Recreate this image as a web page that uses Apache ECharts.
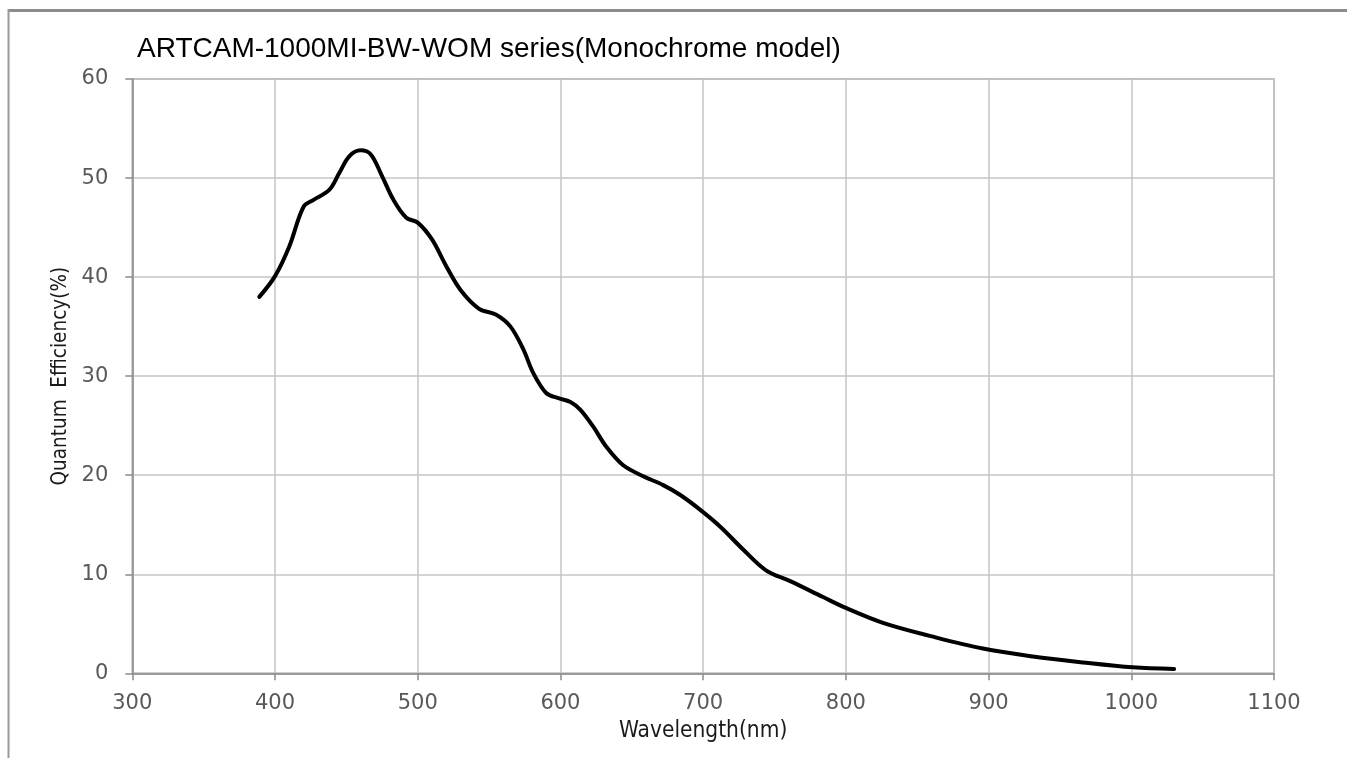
<!DOCTYPE html>
<html>
<head>
<meta charset="utf-8">
<script src="https://cdn.jsdelivr.net/npm/echarts@6/dist/echarts.min.js"></script>
<style>
html,body{margin:0;padding:0;background:#fff;}
#chart{width:1347px;height:758px;}
</style>
</head>
<body>
<div id="chart"></div>
<script>
// Data
const wavelengths = [389, 400, 410, 420, 427, 438, 445, 452, 460, 467, 475, 483, 492, 500, 510, 520, 530, 543, 555, 565, 574, 581, 590, 598, 607, 614, 623, 632, 644, 658, 672, 684, 698, 712, 728, 744, 761, 784, 800, 826, 861, 896, 931, 966, 1001, 1030];
const efficiency = [38.0, 40.1, 43.1, 47.1, 47.8, 48.8, 50.5, 52.2, 52.8, 52.4, 50.2, 47.8, 46.0, 45.5, 43.8, 41.1, 38.7, 36.8, 36.2, 35.0, 32.7, 30.3, 28.3, 27.8, 27.4, 26.6, 24.9, 22.9, 21.0, 19.9, 19.0, 18.0, 16.5, 14.8, 12.5, 10.4, 9.3, 7.7, 6.6, 5.1, 3.7, 2.5, 1.7, 1.1, 0.6, 0.43];
const titleText = 'ARTCAM-1000MI-BW-WOM series(Monochrome model)';
const xAxisName = 'Wavelength(nm)';
const yAxisName = 'Quantum  Efficiency(%)';

const seriesData = wavelengths.map((w, i) => [w, efficiency[i]]);
const narrow = '"Liberation Sans Narrow", "DejaVu Sans Condensed", "Liberation Sans", sans-serif';

const chart = echarts.init(document.getElementById('chart'), null, {renderer: 'canvas'});
chart.setOption({
  backgroundColor: '#fff',
  animation: false,
  title: {
    text: titleText,
    left: 137,
    top: 35,
    padding: 0,
    textStyle: {fontFamily: '"Liberation Sans", Arial, sans-serif', fontSize: 28, fontWeight: 'normal', color: '#000'}
  },
  graphic: [
    {type: 'line', shape: {x1: 8, y1: 10.5, x2: 1347, y2: 10.5}, style: {stroke: '#8c8c8c', lineWidth: 3}},
    {type: 'line', shape: {x1: 8.5, y1: 9, x2: 8.5, y2: 758}, style: {stroke: '#9a9a9a', lineWidth: 2}}
  ],
  grid: {left: 132.3, right: 73, top: 79, bottom: 84.7, show: true, borderColor: '#a0a0a0', borderWidth: 1.5},
  xAxis: {
    type: 'value', min: 300, max: 1100, interval: 100,
    name: xAxisName, nameLocation: 'middle', nameGap: 45,
    nameTextStyle: {fontFamily: narrow, fontSize: 22.5, color: '#1a1a1a'},
    axisLine: {show: true, lineStyle: {color: '#8c8c8c', width: 1.5}},
    axisTick: {show: true, length: 7, lineStyle: {color: '#8c8c8c', width: 1.5}},
    axisLabel: {margin: 20, fontFamily: '"DejaVu Sans", sans-serif', fontSize: 21, color: '#595959', formatter: v => String(v)},
    splitLine: {show: true, lineStyle: {color: '#c4c4c4', width: 1.5}}
  },
  yAxis: {
    type: 'value', min: 0, max: 60, interval: 10,
    name: yAxisName, nameLocation: 'middle', nameGap: 60, nameRotate: 90,
    nameTextStyle: {fontFamily: narrow, fontSize: 20.5, color: '#1a1a1a'},
    axisLine: {show: true, lineStyle: {color: '#8c8c8c', width: 1.5}},
    axisTick: {show: true, length: 7, lineStyle: {color: '#8c8c8c', width: 1.5}},
    axisLabel: {margin: 24, fontFamily: '"DejaVu Sans", sans-serif', fontSize: 21, color: '#595959', formatter: v => String(v)},
    splitLine: {show: true, lineStyle: {color: '#c4c4c4', width: 1.5}}
  },
  series: [{
    type: 'line',
    data: seriesData,
    smooth: 0.35,
    showSymbol: false,
    lineStyle: {color: '#000', width: 4, cap: 'round', join: 'round'}
  }]
});
</script>
</body>
</html>
